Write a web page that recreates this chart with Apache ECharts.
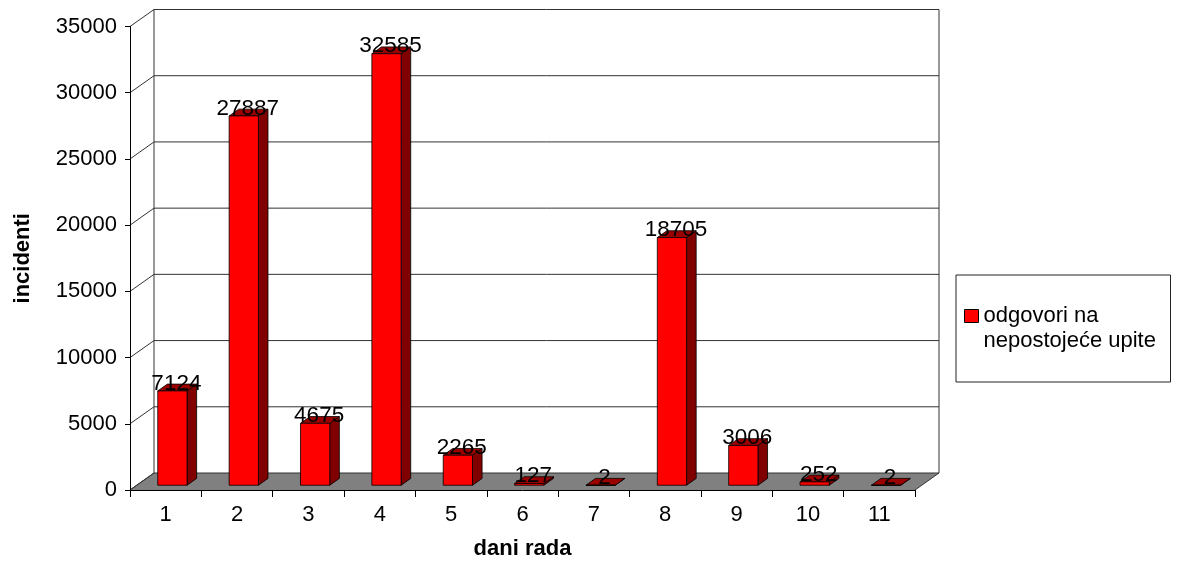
<!DOCTYPE html>
<html>
<head>
<meta charset="utf-8">
<script src="https://cdn.jsdelivr.net/npm/echarts@6/dist/echarts.min.js"></script>
<style>
  html, body { margin: 0; padding: 0; background: #ffffff; }
  #chart { width: 1177px; height: 563px; }
</style>
</head>
<body>
<div id="chart"></div>
<script>
// Working days and the number of incidents logged on each
const days = ['1', '2', '3', '4', '5', '6', '7', '8', '9', '10', '11'];
const incidents = [7124, 27887, 4675, 32585, 2265, 127, 2, 18705, 3006, 252, 2];
const yTicks = [0, 5000, 10000, 15000, 20000, 25000, 30000, 35000];
const seriesName = 'odgovori na\nnepostojeće upite';

const FONT = "'Liberation Sans', Arial, sans-serif";
// Pseudo-3D depth of the plot box (back wall offset in pixels)
const DX = 24, DY = -17;
// Bar placement in depth (fraction of full depth) and bar thickness
const F0 = 0.28, FD = 0.4;

const chart = echarts.init(document.getElementById('chart'));

function renderWalls(params, api) {
  const cs = params.coordSys;
  const gx = cs.x, gw = cs.width;
  const y0 = api.coord([0, 0])[1];
  const yTop = api.coord([0, yTicks[yTicks.length - 1]])[1];
  const children = [];
  const lineStyle = { stroke: '#333333', lineWidth: 1 };
  // floor
  children.push({
    type: 'polygon',
    shape: { points: [[gx, y0], [gx + gw, y0], [gx + gw + DX, y0 + DY], [gx + DX, y0 + DY]] },
    style: { fill: '#808080', stroke: null }
  });
  children.push({
    type: 'line',
    shape: { x1: gx + gw, y1: y0, x2: gx + gw + DX, y2: y0 + DY },
    style: lineStyle
  });
  children.push({
    type: 'line',
    shape: { x1: gx, y1: y0, x2: gx + DX, y2: y0 + DY },
    style: lineStyle
  });
  // back wall grid lines and left wall connectors
  yTicks.forEach(function (v) {
    const y = api.coord([0, v])[1];
    children.push({
      type: 'line',
      shape: { x1: gx + DX, y1: y + DY, x2: gx + gw + DX, y2: y + DY },
      style: lineStyle
    });
    children.push({
      type: 'line',
      shape: { x1: gx, y1: y, x2: gx + DX, y2: y + DY },
      style: lineStyle
    });
  });
  // back wall vertical edges
  [gx + DX, gx + gw + DX].forEach(function (x) {
    children.push({
      type: 'line',
      shape: { x1: x, y1: y0 + DY, x2: x, y2: yTop + DY },
      style: lineStyle
    });
  });
  return { type: 'group', children: children };
}

function renderBar(params, api) {
  const idx = api.value(0);
  const val = api.value(1);
  const base = api.coord([idx, 0]);
  const top = api.coord([idx, val]);
  const cw = api.size([1, 0])[0];
  const bw = cw * 0.41;
  const ox = F0 * DX, oy = F0 * DY;
  const dx = FD * DX, dy = FD * DY;
  const x0 = base[0] - bw / 2 + ox;
  const x1 = x0 + bw;
  const yb = base[1] + oy;
  const yt = top[1] + oy;
  const edge = { stroke: '#000000', lineWidth: 0.8 };
  return {
    type: 'group',
    children: [
      {
        type: 'polygon',
        shape: { points: [[x1, yt], [x1 + dx, yt + dy], [x1 + dx, yb + dy], [x1, yb]] },
        style: Object.assign({ fill: '#800000' }, edge)
      },
      {
        type: 'polygon',
        shape: { points: [[x0, yt], [x1, yt], [x1 + dx, yt + dy], [x0 + dx, yt + dy]] },
        style: Object.assign({ fill: '#9a0000' }, edge)
      },
      {
        type: 'rect',
        shape: { x: x0, y: yt, width: bw, height: yb - yt },
        style: Object.assign({ fill: '#ff0000' }, edge)
      },
      {
        type: 'text',
        z2: 10,
        style: {
          x: x0 + bw / 2 + 4,
          y: yt - 7.5,
          text: String(val),
          fill: '#000000',
          font: '22.5px ' + FONT,
          align: 'center',
          verticalAlign: 'middle'
        }
      }
    ]
  };
}

chart.setOption({
  animation: false,
  backgroundColor: '#ffffff',
  textStyle: { fontFamily: FONT },
  grid: {
    left: 130, top: 26.5, width: 785, height: 463.5,
    containLabel: false,
    outerBoundsMode: 'none'
  },
  legend: {
    left: 956,
    top: 275,
    orient: 'vertical',
    icon: 'rect',
    itemWidth: 14,
    itemHeight: 13,
    borderColor: '#222222',
    borderWidth: 1,
    padding: [3.5, 7, 28.5, 8],
    selectedMode: false,
    itemStyle: { color: '#ff0000', borderColor: '#000000', borderWidth: 1 },
    // a leading blank line keeps the marker level with the first text line
    formatter: function (name) { return ' \n' + name; },
    textStyle: {
      fontFamily: FONT,
      fontSize: 22,
      color: '#000000',
      lineHeight: 25,
      width: 180
    },
    data: [seriesName]
  },
  xAxis: {
    type: 'category',
    data: days,
    boundaryGap: true,
    z: 5,
    name: 'dani rada',
    nameLocation: 'middle',
    nameGap: 48,
    nameTextStyle: { fontFamily: FONT, fontSize: 22, fontWeight: 'bold', color: '#000000' },
    axisLine: { show: true, lineStyle: { color: '#000000', width: 1 } },
    axisTick: { show: true, length: 7, lineStyle: { color: '#000000' } },
    axisLabel: { fontFamily: FONT, fontSize: 22, color: '#000000', margin: 14 },
    splitLine: { show: false }
  },
  yAxis: {
    type: 'value',
    min: 0,
    max: 35000,
    interval: 5000,
    z: 5,
    name: 'incidenti',
    nameLocation: 'middle',
    nameRotate: 90,
    nameGap: 96,
    nameTextStyle: { fontFamily: FONT, fontSize: 22, fontWeight: 'bold', color: '#000000' },
    axisLine: { show: true, lineStyle: { color: '#000000', width: 1 } },
    axisTick: { show: true, length: 5, lineStyle: { color: '#000000' } },
    axisLabel: {
      fontFamily: FONT, fontSize: 22, color: '#000000', margin: 13,
      formatter: function (v) { return String(v); }
    },
    splitLine: { show: false }
  },
  series: [
    {
      type: 'custom',
      name: 'walls',
      z: 1,
      silent: true,
      renderItem: renderWalls,
      data: [[0, 0]],
      tooltip: { show: false }
    },
    {
      type: 'custom',
      name: seriesName,
      z: 3,
      itemStyle: { color: '#ff0000' },
      renderItem: renderBar,
      encode: { x: 0, y: 1 },
      data: incidents.map(function (v, i) { return [i, v]; })
    }
  ]
});
</script>
</body>
</html>
